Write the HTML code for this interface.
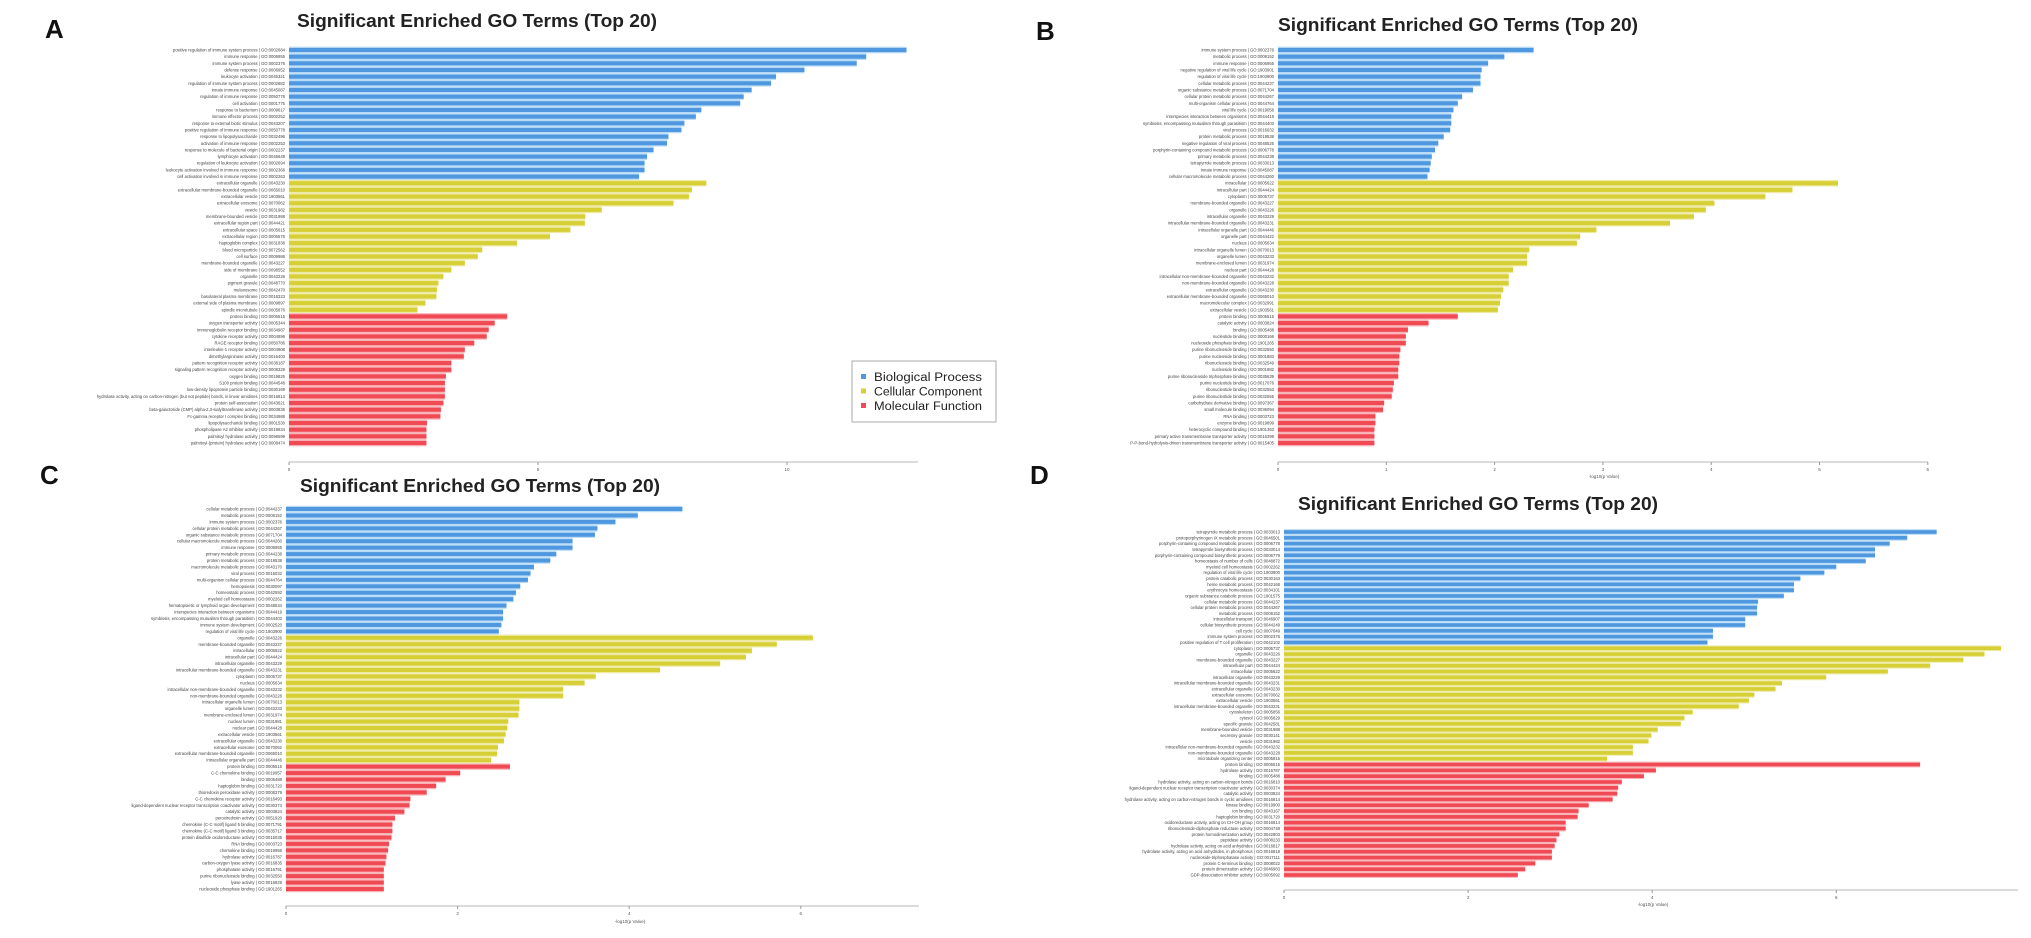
<!DOCTYPE html>
<html><head><meta charset="utf-8"><style>
html,body{margin:0;padding:0;background:#fff;}
svg{display:block;font-family:"Liberation Sans",sans-serif;}
</style></head>
<body>
<svg id="fig" width="2031" height="938" viewBox="0 0 2031 938"></svg>
<script>
// ---------- DATA ----------
const categories = ["Biological Process","Cellular Component","Molecular Function"];
const catColors = ["#4f98df","#d6d036","#f04a55"];
const catTints = ["#b9dcf6","#eeeaa6","#f8b5b8"];

const aBP = [12.40,11.59,11.40,10.35,9.78,9.68,9.29,9.13,9.06,8.28,8.17,7.94,7.88,7.62,7.59,7.32,7.19,7.14,7.14,7.03];
const aCC = [8.38,8.09,8.03,7.72,6.28,5.95,5.94,5.65,5.24,4.58,3.88,3.79,3.53,3.26,3.10,3.00,2.97,2.96,2.74,2.58];
const aMF = [4.38,4.13,4.01,3.97,3.72,3.53,3.51,3.26,3.26,3.15,3.13,3.13,3.13,3.10,3.05,3.04,2.77,2.76,2.76,2.76];
const aTicks = [0,5,10];

const bBP = [2.36,2.09,1.94,1.88,1.87,1.87,1.80,1.70,1.66,1.62,1.60,1.60,1.59,1.53,1.48,1.45,1.42,1.41,1.40,1.38];
const bCC = [5.17,4.75,4.50,4.03,3.95,3.84,3.62,2.94,2.79,2.76,2.32,2.30,2.30,2.17,2.13,2.13,2.08,2.06,2.05,2.03];
const bMF = [1.66,1.39,1.20,1.18,1.18,1.13,1.12,1.12,1.11,1.11,1.07,1.06,1.05,0.98,0.97,0.90,0.90,0.89,0.89,0.89];
const bTicks = [0,1,2,3,4,5,6];

const cBP = [4.62,4.10,3.84,3.63,3.60,3.34,3.34,3.15,3.08,2.89,2.85,2.82,2.73,2.68,2.65,2.57,2.53,2.53,2.51,2.48];
const cCC = [6.14,5.72,5.43,5.36,5.06,4.36,3.61,3.48,3.23,3.23,2.72,2.72,2.71,2.59,2.58,2.56,2.54,2.47,2.46,2.39];
const cMF = [2.61,2.03,1.86,1.75,1.64,1.45,1.44,1.38,1.27,1.24,1.24,1.23,1.20,1.19,1.17,1.16,1.14,1.14,1.14,1.14];
const cTicks = [0,2,4,6];

const dBP = [7.09,6.77,6.58,6.42,6.42,6.32,6.00,5.87,5.61,5.54,5.54,5.43,5.15,5.14,5.14,5.01,5.01,4.66,4.66,4.60];
const dCC = [7.79,7.61,7.38,7.02,6.56,5.89,5.41,5.34,5.11,5.05,4.94,4.44,4.35,4.31,4.06,3.99,3.96,3.79,3.79,3.51];
const dMF = [6.91,4.04,3.91,3.67,3.63,3.62,3.57,3.31,3.20,3.19,3.06,3.06,2.99,2.96,2.94,2.91,2.91,2.73,2.62,2.54];
const dTicks = [0,2,4,6];

const aLabels = ["positive regulation of immune system process | GO:0002684","immune response | GO:0006955","immune system process | GO:0002376","defense response | GO:0006952","leukocyte activation | GO:0045321","regulation of immune system process | GO:0002682","innate immune response | GO:0045087","regulation of immune response | GO:0050776","cell activation | GO:0001775","response to bacterium | GO:0009617","immune effector process | GO:0002252","response to external biotic stimulus | GO:0043207","positive regulation of immune response | GO:0050778","response to lipopolysaccharide | GO:0032496","activation of immune response | GO:0002253","response to molecule of bacterial origin | GO:0002237","lymphocyte activation | GO:0046649","regulation of leukocyte activation | GO:0002694","leukocyte activation involved in immune response | GO:0002366","cell activation involved in immune response | GO:0002263",
"extracellular organelle | GO:0043230","extracellular membrane-bounded organelle | GO:0065010","extracellular vesicle | GO:1903561","extracellular exosome | GO:0070062","vesicle | GO:0031982","membrane-bounded vesicle | GO:0031988","extracellular region part | GO:0044421","extracellular space | GO:0005615","extracellular region | GO:0005576","haptoglobin complex | GO:0031838","blood microparticle | GO:0072562","cell surface | GO:0009986","membrane-bounded organelle | GO:0043227","side of membrane | GO:0098552","organelle | GO:0043226","pigment granule | GO:0048770","melanosome | GO:0042470","basolateral plasma membrane | GO:0016323","external side of plasma membrane | GO:0009897","spindle microtubule | GO:0005876",
"protein binding | GO:0005515","oxygen transporter activity | GO:0005344","immunoglobulin receptor binding | GO:0034987","cytokine receptor activity | GO:0004896","RAGE receptor binding | GO:0050786","interleukin-1 receptor activity | GO:0004908","dimethylargininase activity | GO:0016403","pattern recognition receptor activity | GO:0038187","signaling pattern recognition receptor activity | GO:0008329","oxygen binding | GO:0019825","S100 protein binding | GO:0044548","low-density lipoprotein particle binding | GO:0030169","hydrolase activity, acting on carbon-nitrogen (but not peptide) bonds, in linear amidines | GO:0016813","protein self-association | GO:0043621","beta-galactoside (CMP) alpha-2,3-sialyltransferase activity | GO:0003836","Fc-gamma receptor I complex binding | GO:0034988","lipopolysaccharide binding | GO:0001530","phospholipase A2 inhibitor activity | GO:0019834","palmitoyl hydrolase activity | GO:0098599","palmitoyl-(protein) hydrolase activity | GO:0008474"];
const bLabels = ["immune system process | GO:0002376","metabolic process | GO:0008152","immune response | GO:0006955","negative regulation of viral life cycle | GO:1903901","regulation of viral life cycle | GO:1903900","cellular metabolic process | GO:0044237","organic substance metabolic process | GO:0071704","cellular protein metabolic process | GO:0044267","multi-organism cellular process | GO:0044764","viral life cycle | GO:0019058","interspecies interaction between organisms | GO:0044419","symbiosis, encompassing mutualism through parasitism | GO:0044403","viral process | GO:0016032","protein metabolic process | GO:0019538","negative regulation of viral process | GO:0048525","porphyrin-containing compound metabolic process | GO:0006778","primary metabolic process | GO:0044238","tetrapyrrole metabolic process | GO:0033013","innate immune response | GO:0045087","cellular macromolecule metabolic process | GO:0044260",
"intracellular | GO:0005622","intracellular part | GO:0044424","cytoplasm | GO:0005737","membrane-bounded organelle | GO:0043227","organelle | GO:0043226","intracellular organelle | GO:0043229","intracellular membrane-bounded organelle | GO:0043231","intracellular organelle part | GO:0044446","organelle part | GO:0044422","nucleus | GO:0005634","intracellular organelle lumen | GO:0070013","organelle lumen | GO:0043233","membrane-enclosed lumen | GO:0031974","nuclear part | GO:0044428","intracellular non-membrane-bounded organelle | GO:0043232","non-membrane-bounded organelle | GO:0043228","extracellular organelle | GO:0043230","extracellular membrane-bounded organelle | GO:0065010","macromolecular complex | GO:0032991","extracellular vesicle | GO:1903561",
"protein binding | GO:0005515","catalytic activity | GO:0003824","binding | GO:0005488","nucleotide binding | GO:0000166","nucleoside phosphate binding | GO:1901265","purine ribonucleoside binding | GO:0032550","purine nucleoside binding | GO:0001883","ribonucleoside binding | GO:0032549","nucleoside binding | GO:0001882","purine ribonucleoside triphosphate binding | GO:0035639","purine nucleotide binding | GO:0017076","ribonucleotide binding | GO:0032553","purine ribonucleotide binding | GO:0032555","carbohydrate derivative binding | GO:0097367","small molecule binding | GO:0036094","RNA binding | GO:0003723","enzyme binding | GO:0019899","heterocyclic compound binding | GO:1901363","primary active transmembrane transporter activity | GO:0015399","P-P-bond-hydrolysis-driven transmembrane transporter activity | GO:0015405"];
const cLabels = ["cellular metabolic process | GO:0044237","metabolic process | GO:0008152","immune system process | GO:0002376","cellular protein metabolic process | GO:0044267","organic substance metabolic process | GO:0071704","cellular macromolecule metabolic process | GO:0044260","immune response | GO:0006955","primary metabolic process | GO:0044238","protein metabolic process | GO:0019538","macromolecule metabolic process | GO:0043170","viral process | GO:0016032","multi-organism cellular process | GO:0044764","hemopoiesis | GO:0030097","homeostatic process | GO:0042592","myeloid cell homeostasis | GO:0002262","hematopoietic or lymphoid organ development | GO:0048534","interspecies interaction between organisms | GO:0044419","symbiosis, encompassing mutualism through parasitism | GO:0044403","immune system development | GO:0002520","regulation of viral life cycle | GO:1903900",
"organelle | GO:0043226","membrane-bounded organelle | GO:0043227","intracellular | GO:0005622","intracellular part | GO:0044424","intracellular organelle | GO:0043229","intracellular membrane-bounded organelle | GO:0043231","cytoplasm | GO:0005737","nucleus | GO:0005634","intracellular non-membrane-bounded organelle | GO:0043232","non-membrane-bounded organelle | GO:0043228","intracellular organelle lumen | GO:0070013","organelle lumen | GO:0043233","membrane-enclosed lumen | GO:0031974","nuclear lumen | GO:0031981","nuclear part | GO:0044428","extracellular vesicle | GO:1903561","extracellular organelle | GO:0043230","extracellular exosome | GO:0070062","extracellular membrane-bounded organelle | GO:0065010","intracellular organelle part | GO:0044446",
"protein binding | GO:0005515","C-C chemokine binding | GO:0019957","binding | GO:0005488","haptoglobin binding | GO:0031720","thioredoxin peroxidase activity | GO:0008379","C-C chemokine receptor activity | GO:0016493","ligand-dependent nuclear receptor transcription coactivator activity | GO:0030374","catalytic activity | GO:0003824","peroxiredoxin activity | GO:0051920","chemokine (C-C motif) ligand 5 binding | GO:0071791","chemokine (C-C motif) ligand 3 binding | GO:0035717","protein disulfide oxidoreductase activity | GO:0015035","RNA binding | GO:0003723","chemokine binding | GO:0019956","hydrolase activity | GO:0016787","carbon-oxygen lyase activity | GO:0016835","phosphatase activity | GO:0016791","purine ribonucleoside binding | GO:0032550","lyase activity | GO:0016829","nucleoside phosphate binding | GO:1901265"];
const dLabels = ["tetrapyrrole metabolic process | GO:0033013","protoporphyrinogen IX metabolic process | GO:0046501","porphyrin-containing compound metabolic process | GO:0006778","tetrapyrrole biosynthetic process | GO:0033014","porphyrin-containing compound biosynthetic process | GO:0006779","homeostasis of number of cells | GO:0048872","myeloid cell homeostasis | GO:0002262","regulation of viral life cycle | GO:1903900","protein catabolic process | GO:0030163","heme metabolic process | GO:0042168","erythrocyte homeostasis | GO:0034101","organic substance catabolic process | GO:1901575","cellular metabolic process | GO:0044237","cellular protein metabolic process | GO:0044267","metabolic process | GO:0008152","intracellular transport | GO:0046907","cellular biosynthetic process | GO:0044249","cell cycle | GO:0007049","immune system process | GO:0002376","positive regulation of T cell proliferation | GO:0042102",
"cytoplasm | GO:0005737","organelle | GO:0043226","membrane-bounded organelle | GO:0043227","intracellular part | GO:0044424","intracellular | GO:0005622","intracellular organelle | GO:0043229","intracellular membrane-bounded organelle | GO:0043231","extracellular organelle | GO:0043230","extracellular exosome | GO:0070062","extracellular vesicle | GO:1903561","intracellular membrane-bounded organelle | GO:0043231","cytoskeleton | GO:0005856","cytosol | GO:0005829","specific granule | GO:0042581","membrane-bounded vesicle | GO:0031988","secretory granule | GO:0030141","vesicle | GO:0031982","intracellular non-membrane-bounded organelle | GO:0043232","non-membrane-bounded organelle | GO:0043228","microtubule organizing center | GO:0005815",
"protein binding | GO:0005515","hydrolase activity | GO:0016787","binding | GO:0005488","hydrolase activity, acting on carbon-nitrogen bonds | GO:0016810","ligand-dependent nuclear receptor transcription coactivator activity | GO:0030374","catalytic activity | GO:0003824","hydrolase activity, acting on carbon-nitrogen bonds in cyclic amidines | GO:0016814","kinase binding | GO:0019900","ion binding | GO:0043167","haptoglobin binding | GO:0031720","oxidoreductase activity, acting on CH-OH group | GO:0016614","ribonucleoside-diphosphate reductase activity | GO:0004748","protein homodimerization activity | GO:0042803","peptidase activity | GO:0008233","hydrolase activity, acting on acid anhydrides | GO:0016817","hydrolase activity, acting on acid anhydrides, in phosphorus | GO:0016818","nucleoside-triphosphatase activity | GO:0017111","protein C-terminus binding | GO:0008022","protein dimerization activity | GO:0046983","GDP-dissociation inhibitor activity | GO:0005092"];

// ---------- LAYOUT ----------
const panels = [
 {id:"a",letter:"A",lx:45,ly:38,tx:477,ty:27,x0:289,pxPerUnit:49.8,axisEnd:918,yFirst:50,yLast:443,axisY:462,series:[aBP,aCC,aMF],labels:aLabels,ticks:aTicks,title2:null},
 {id:"b",letter:"B",lx:1036,ly:40,tx:1458,ty:31,x0:1278,pxPerUnit:108.3,axisEnd:1928,yFirst:50,yLast:443,axisY:462,series:[bBP,bCC,bMF],labels:bLabels,ticks:bTicks,title2:[1604,478]},
 {id:"c",letter:"C",lx:40,ly:484,tx:480,ty:492,x0:286,pxPerUnit:85.8,axisEnd:919,yFirst:509,yLast:889,axisY:906,series:[cBP,cCC,cMF],labels:cLabels,ticks:cTicks,title2:[630,923]},
 {id:"d",letter:"D",lx:1030,ly:484,tx:1478,ty:510,x0:1284,pxPerUnit:92.05,axisEnd:2018,yFirst:532,yLast:875,axisY:890,series:[dBP,dCC,dMF],labels:dLabels,ticks:dTicks,title2:[1653,906]}
];

const NS="http://www.w3.org/2000/svg";
const svg=document.getElementById('fig');
function mk(tag,attrs,parent,text){const e=document.createElementNS(NS,tag);for(const k in attrs)e.setAttribute(k,attrs[k]);if(text!=null)e.textContent=text;(parent||svg).appendChild(e);return e;}

panels.forEach(p=>{
  const g=mk('g',{});
  
  
  const xs=v=>p.x0+v*p.pxPerUnit;
  const n=60, step=(p.yLast-p.yFirst)/(n-1);
  const ys=i=>p.yFirst+i*step;
  const letter=mk('text',{x:p.lx,y:p.ly,'font-size':26,'font-weight':'bold',fill:'#111'},g,p.letter);
  
  
  const t=mk('text',{x:p.tx,y:p.ty,'font-size':18,'font-weight':'bold','text-anchor':'middle',fill:'#222',textLength:360,lengthAdjust:'spacingAndGlyphs'},g,'Significant Enriched GO Terms (Top 20)');
  
  
  let idx=0;
  p.series.forEach((ser,ci)=>{
    ser.forEach(v=>{
      const y=ys(idx), w=Math.max(0,xs(v)-p.x0);
      const bg=mk('rect',{x:p.x0,y:y-step/2,width:w,height:step,fill:catTints[ci]},g);
      
      
      const h=step*0.62;
      const r=mk('rect',{x:p.x0,y:y-h/2,width:w,height:h,fill:catColors[ci]},g);
      
      
      const lb=mk('text',{x:p.x0-4,y:y+1.5,'font-size':4.2,'text-anchor':'end',fill:'#444'},g,p.labels[idx]);
      
      
      idx++;
    });
  });
  const ax=mk('line',{x1:p.x0,x2:p.axisEnd,y1:p.axisY,y2:p.axisY,stroke:'#cfcfcf','stroke-width':1.5},g);
  
  
  p.ticks.forEach(tv=>{
    const tx=xs(tv);
    const tk=mk('line',{x1:tx,x2:tx,y1:p.axisY,y2:p.axisY+3,stroke:'#999','stroke-width':1},g);
    
    
    const tl=mk('text',{x:tx,y:p.axisY+9,'font-size':4.5,'text-anchor':'middle',fill:'#555'},g,String(tv));
    
    
  });
  if(p.title2){
    const at=mk('text',{x:p.title2[0],y:p.title2[1],'font-size':4.5,'text-anchor':'middle',fill:'#555'},g,'-log10(p Value)');
    
    
  }
});

// legend
const lg=mk('g',{});


mk('rect',{x:852,y:361,width:144,height:61,fill:'#fff',stroke:'#aaa','stroke-width':1},lg);
categories.forEach((c,i)=>{
  const y=378+i*14.5;
  const e=mk('g',{},lg);
  
  
  mk('rect',{x:861,y:y-4,width:5,height:5,fill:catColors[i]},e);
  mk('text',{x:874,y:y+3,'font-size':11.5,fill:'#222',textLength:108,lengthAdjust:'spacingAndGlyphs'},e,c);
});
</script>
</body></html>
